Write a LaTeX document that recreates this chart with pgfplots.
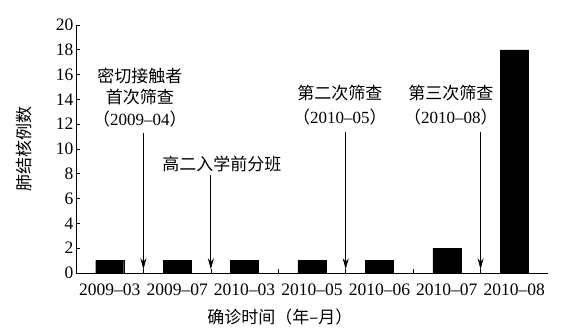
\documentclass[border=0pt]{standalone}
\usepackage{pgfplots}
\pgfplotsset{compat=1.18}
\usepackage{fontspec}
\setmainfont{Liberation Serif}
\newfontfamily\cjk{Noto Sans CJK SC}
\usetikzlibrary{arrows.meta}
\begin{document}
\begin{tikzpicture}
\path[use as bounding box] (-76pt,-58pt) rectangle (499pt,273pt);
\begin{axis}[
  scale only axis,
  width=472pt, height=248pt,
  axis lines*=left,
  xmin=-0.5, xmax=6.5, ymin=0, ymax=20,
  ytick={0,2,...,20},
  xtick={0,...,6},
  xticklabels={2009–03,2009–07,2010–03,2010–05,2010–06,2010–07,2010–08},
  minor xtick={0.5,1.5,...,5.5},
  major x tick style={draw=none},
  tick align=inside,
  major tick length=4pt, minor tick length=4pt,
  tick style={black, line width=0.6pt},
  axis line style={line width=0.9pt},
  /pgf/number format/assume math mode=true,
  tick label style={font=\fontsize{17.5}{20}\selectfont},
  xticklabel style={yshift=-7pt},
  yticklabel style={xshift=1pt},
  xlabel={\cjk 确诊时间（年–月）},
  ylabel={\cjk 肺结核例数},
  label style={font=\fontsize{17}{20}\selectfont},
  xlabel style={at={(axis description cs:0.432,0)}, anchor=north, yshift=-32pt},
  ylabel style={at={(axis description cs:0,0.5)}, anchor=south, xshift=0pt, yshift=41pt},
  clip=false,
]
\addplot[ybar, bar width=28pt, fill=black, draw=black] coordinates {
  (0,1) (1,1) (2,1) (3,1) (4,1) (5,2) (6,18)
};
\tikzset{arr/.style={-{Stealth[length=11pt,width=6pt]}, line width=0.9pt}}
\draw[arr] (axis cs:0.5,11.3) -- (axis cs:0.5,0.3);
\draw[arr] (axis cs:1.5,7.9) -- (axis cs:1.5,0.3);
\draw[arr] (axis cs:3.5,11.4) -- (axis cs:3.5,0.3);
\draw[arr] (axis cs:5.5,11.4) -- (axis cs:5.5,0.3);
\tikzset{lab/.style={font=\fontsize{17}{20}\selectfont, inner sep=0pt}}
\node[lab] at (axis cs:0.449,15.9) {\cjk 密切接触者};
\node[lab] at (axis cs:0.449,14.2) {\cjk 首次筛查};
\node[lab] at (axis cs:0.449,12.4) {{\cjk （}2009–04{\cjk ）}};
\node[lab] at (axis cs:1.665,8.8) {\cjk 高二入学前分班};
\node[lab] at (axis cs:3.415,14.5) {\cjk 第二次筛查};
\node[lab] at (axis cs:3.415,12.6) {{\cjk （}2010–05{\cjk ）}};
\node[lab] at (axis cs:5.06,14.5) {\cjk 第三次筛查};
\node[lab] at (axis cs:5.06,12.6) {{\cjk （}2010–08{\cjk ）}};
\end{axis}
\end{tikzpicture}
\end{document}
